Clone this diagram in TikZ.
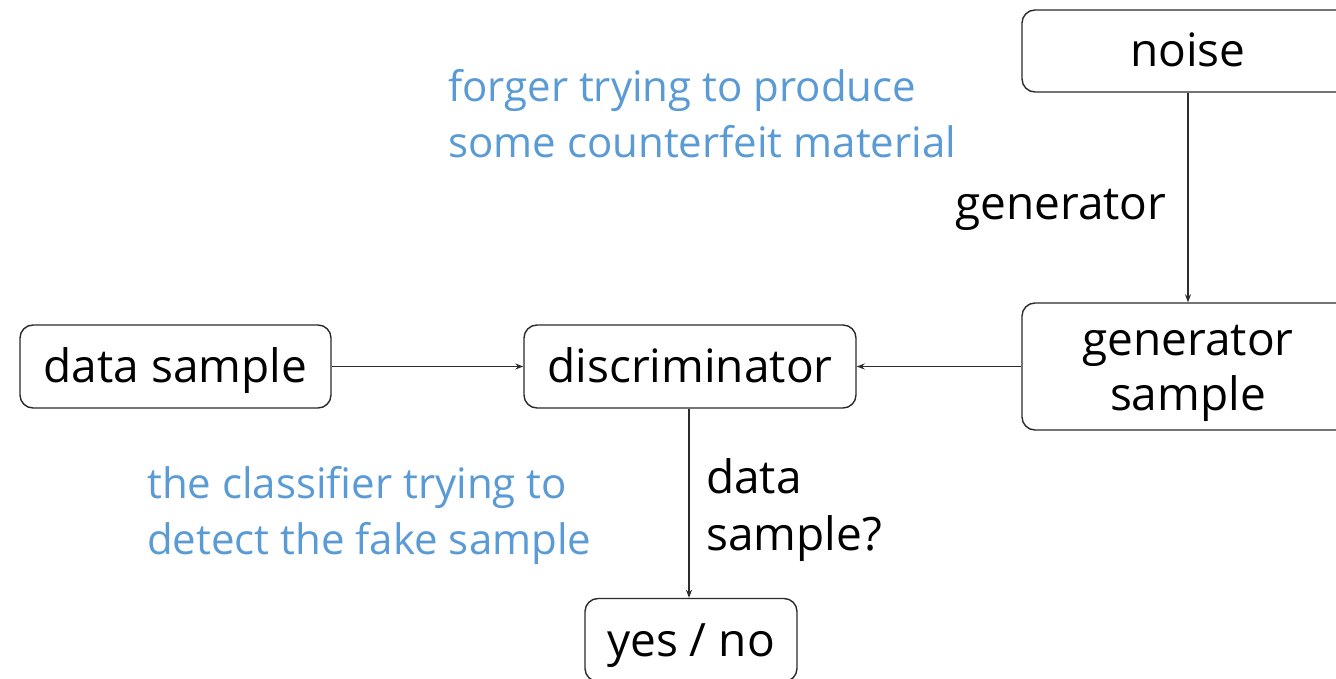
\documentclass[tikz,border=0pt]{standalone}
\usepackage{fontspec}
\setmainfont{Open Sans}
\usetikzlibrary{arrows.meta}
\definecolor{edgegray}{HTML}{2B2B2B}
\definecolor{noteblue}{HTML}{5B9BD5}
\tikzset{
  box/.style={draw=edgegray, line width=1.4pt, rounded corners=13pt, fill=white,
    inner sep=0pt, align=center, text height=36pt, text depth=4pt,
    font=\fontsize{46}{55}\selectfont},
  flow/.style={draw=edgegray, line width=1.1pt, -{Stealth[length=8pt,width=6pt]}},
  lbl/.style={inner sep=0pt, anchor=west, align=left, font=\fontsize{46}{57}\selectfont},
  note/.style={inner sep=0pt, anchor=west, align=left, text=noteblue, font=\fontsize{42}{56}\selectfont}
}
\begin{document}
\begin{tikzpicture}[x=1pt,y=-1pt]
\useasboundingbox (0,0) rectangle (1336,679);
\clip (0,0) rectangle (1336,679);
\fill[white] (0,0) rectangle (1336,679);

% boxes
\node[box, minimum width=332pt, minimum height=82pt] (noise) at (1188,51) {noise};
\node[box, minimum width=332pt, minimum height=127pt, text height=91pt] (gen) at (1188,366.5) {generator\\sample};
\node[box, minimum width=311pt, minimum height=83pt] (data) at (175.5,366.5) {data sample};
\node[box, minimum width=332pt, minimum height=83pt] (disc) at (690,366.5) {discriminator};
\node[box, minimum width=212pt, minimum height=83pt] (yn) at (691,640) {yes / no};

% connectors
\draw[flow] (noise) -- (gen);
\draw[flow] (data) -- (disc);
\draw[flow] (gen) -- (disc);
\draw[flow] (disc.south -| 689,0) -- (yn.north -| 689,0);

% labels
\node[lbl, anchor=base west] (genlbl) at (955,220) {generator};
\node[lbl] (dslbl) at (706,510) {data\\sample?};

% notes
\node[note] (forger) at (448,114) {forger trying to produce\\some counterfeit material};
\node[note] (classifier) at (147,515) {the classifier trying to\\detect the fake sample};
\end{tikzpicture}
\end{document}
